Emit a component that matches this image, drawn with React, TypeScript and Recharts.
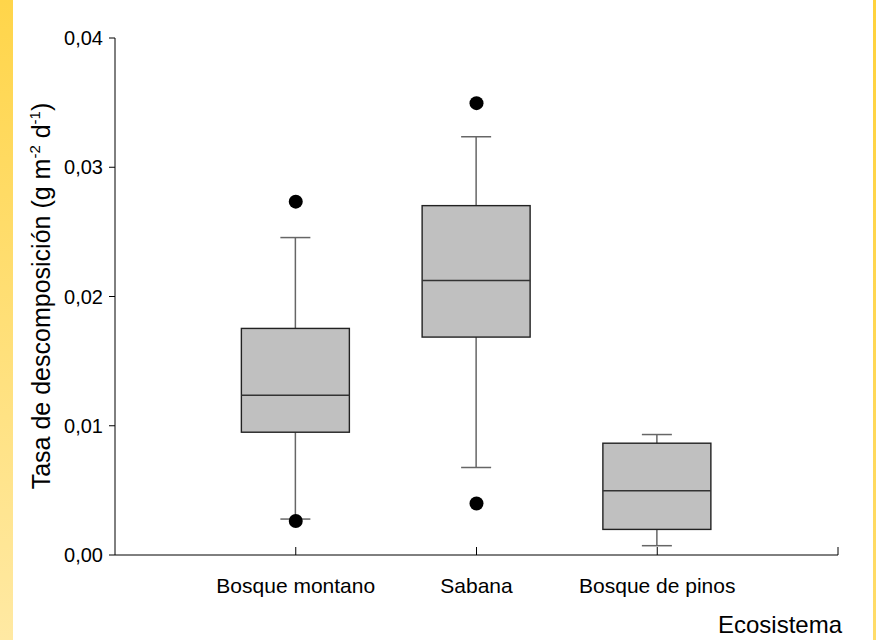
import React from 'react';
import { ComposedChart, Bar, Scatter, XAxis, YAxis } from 'recharts';

// Decomposition rate per ecosystem (g m-2 d-1): box-plot summaries
const ecosystems = ['Bosque montano', 'Sabana', 'Bosque de pinos'];
const positions = [1, 2, 3];
const whiskerLow = [0.00278, 0.00677, 0.00072];
const q1 = [0.0095, 0.01686, 0.00198];
const median = [0.01236, 0.02124, 0.00497];
const q3 = [0.01753, 0.02703, 0.00865];
const whiskerHigh = [0.02456, 0.03236, 0.00932];

// Outlying observations
const outlierPos = [1, 1, 2, 2];
const outlierValues = [0.02734, 0.00263, 0.03496, 0.00399];

const yTicks = [0, 0.01, 0.02, 0.03, 0.04];
const xTicks = [1, 2, 3, 4];

const FONT = '"Liberation Sans", Arial, Helvetica, sans-serif';

const boxes = positions.map((x, i) => ({
  x,
  name: ecosystems[i],
  low: whiskerLow[i],
  q1: q1[i],
  median: median[i],
  q3: q3[i],
  high: whiskerHigh[i],
  range: [whiskerLow[i], whiskerHigh[i]],
}));

const outliers = outlierPos.map((x, i) => ({ x, y: outlierValues[i] }));

// Draws one box with whiskers inside the pixel span the bar scale gives for [low, high]
const BoxShape = (props: any) => {
  const { x, y, width, height, payload } = props;
  if (!payload) return null;
  const top = Math.min(y, y + height);
  const bottom = Math.max(y, y + height);
  const { low, high } = payload;
  const py = (v: number) => bottom - ((bottom - top) * (v - low)) / (high - low);
  const cx = x + width / 2;
  const cap = 15;
  const whisker = '#666';
  return (
    <g>
      <line x1={cx} x2={cx} y1={py(high)} y2={py(payload.q3)} stroke={whisker} strokeWidth={1.5} />
      <line x1={cx} x2={cx} y1={py(payload.q1)} y2={py(low)} stroke={whisker} strokeWidth={1.5} />
      <line x1={cx - cap} x2={cx + cap} y1={py(high)} y2={py(high)} stroke={whisker} strokeWidth={1.5} />
      <line x1={cx - cap} x2={cx + cap} y1={py(low)} y2={py(low)} stroke={whisker} strokeWidth={1.5} />
      <rect
        x={x}
        y={py(payload.q3)}
        width={width}
        height={py(payload.q1) - py(payload.q3)}
        fill="#c0c0c0"
        stroke="#222"
        strokeWidth={1.4}
      />
      <line x1={x} x2={x + width} y1={py(payload.median)} y2={py(payload.median)} stroke="#333" strokeWidth={1.6} />
    </g>
  );
};

const OutlierDot = (props: any) => <circle cx={props.cx} cy={props.cy} r={7} fill="#000" />;

const XTick = (props: any) => {
  const { x, y, payload } = props;
  const idx = positions.indexOf(payload.value);
  return (
    <g>
      <line x1={x} x2={x} y1={y} y2={y - 8} stroke="#000" strokeWidth={1} />
      {idx >= 0 && (
        <text x={x} y={y + 38} textAnchor="middle" fontSize={21} fontFamily={FONT} fill="#000">
          {ecosystems[idx]}
        </text>
      )}
    </g>
  );
};

const XTitle = (props: any) => {
  const vb = props.viewBox || {};
  return (
    <text x={vb.x + vb.width + 4} y={vb.y + 78} textAnchor="end" fontSize={24} fontFamily={FONT} fill="#000">
      Ecosistema
    </text>
  );
};

const YTitle = () => (
  <text
    x={50}
    y={296}
    transform="rotate(-90 50 296)"
    textAnchor="middle"
    fontSize={25}
    fontFamily={FONT}
    fill="#000"
  >
    Tasa de descomposición (g m
    <tspan dy={-10} fontSize={15}>-2</tspan>
    <tspan dy={10}> d</tspan>
    <tspan dy={-10} fontSize={15}>-1</tspan>
    <tspan dy={10}>)</tspan>
  </text>
);

const fmt = (v: number) => v.toFixed(2).replace('.', ',');

export default function App() {
  return (
    <div style={{ position: 'absolute', left: 0, top: 0, width: 876, height: 640, background: '#fff', overflow: 'hidden' }}>
      <div
        style={{
          position: 'absolute',
          left: 0,
          top: 0,
          width: 13,
          height: 640,
          background: 'linear-gradient(to bottom, #FFD54A, #FFE9A3)',
        }}
      />
      <div
        style={{
          position: 'absolute',
          left: 873,
          top: 0,
          width: 3,
          height: 640,
          background: 'linear-gradient(to bottom, #FFD23C, #FFDC6A)',
        }}
      />
      <div style={{ position: 'absolute', left: 0, top: 0 }}>
        <ComposedChart width={876} height={640} data={boxes} margin={{ top: 38, right: 38, bottom: 0, left: 55 }}>
          <XAxis
            type="number"
            dataKey="x"
            domain={[0, 4]}
            ticks={xTicks}
            interval={0}
            height={85}
            tickLine={false}
            tickSize={0}
            tickMargin={0}
            tick={<XTick />}
            axisLine={{ stroke: '#000', strokeWidth: 1 }}
            label={<XTitle />}
          />
          <YAxis
            type="number"
            domain={[0, 0.04]}
            ticks={yTicks}
            interval={0}
            width={60}
            tickSize={6}
            tickMargin={6}
            tickFormatter={fmt}
            tick={{ fill: '#000', fontSize: 20, fontFamily: FONT }}
            tickLine={{ stroke: '#000', strokeWidth: 1 }}
            axisLine={{ stroke: '#000', strokeWidth: 1 }}
            label={<YTitle />}
          />
          <Bar dataKey="range" barSize={108} shape={<BoxShape />} isAnimationActive={false} />
          <Scatter data={outliers} dataKey="y" shape={<OutlierDot />} isAnimationActive={false} />
        </ComposedChart>
      </div>
    </div>
  );
}
